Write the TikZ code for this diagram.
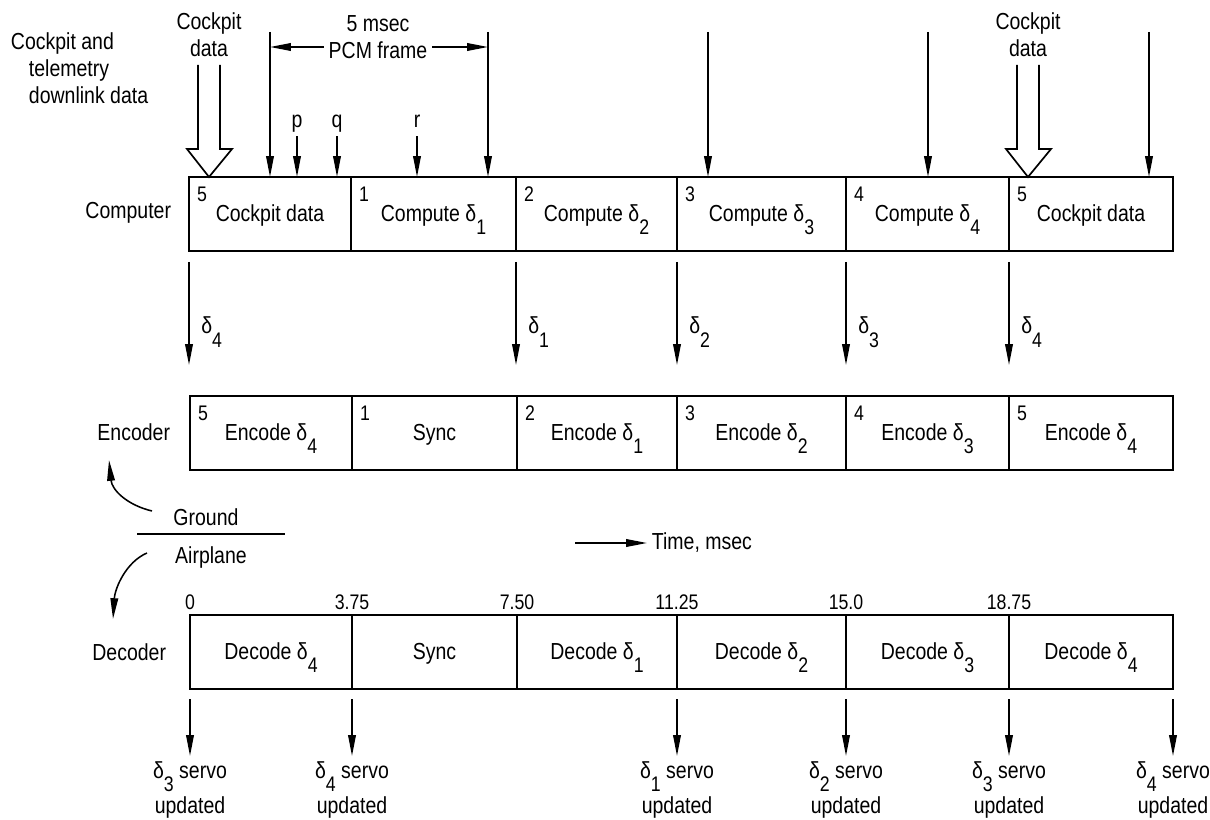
\documentclass[tikz,border=0pt]{standalone}
\usepackage{fontspec}
\setmainfont{Liberation Sans}[FakeStretch=0.84]
\usetikzlibrary{arrows.meta,positioning,calc}

\newcommand{\dsub}[1]{δ\raisebox{-0.6em}{\fontsize{15}{15}\selectfont #1}}

\begin{document}
\begin{tikzpicture}[
  	x=0.025cm,
  	y=-0.025cm,
  	font=\fontsize{16.5}{19}\selectfont,
  	cell/.style={draw=black,line width=1.6pt,inner sep=0pt,outer sep=0pt,anchor=north west,minimum height=1.85cm,text height=10pt,text depth=0pt},
  	slot/.style={font=\fontsize{15}{17}\selectfont,inner sep=0pt},
  	rate/.style={inner sep=2pt,text height=1.5ex,text depth=0.4ex},
  	feed/.style={-{Triangle[length=5.2mm,width=1.9mm]},line width=1.1pt},
  	hollow/.style={draw=black,line width=1.2pt,fill=white,line join=miter},
  	divider/.style={line width=1.3pt}
  	]
  	\useasboundingbox (0,0) rectangle (1210,820);
  	
  	\node[anchor=north west,align=left] (source) at (24,28) {\hspace*{-0.45cm}Cockpit and\\telemetry\\downlink data};
  	
  	\node[anchor=east] (computer) at (176,213) {Computer};
  	\node[anchor=east] (encoder) at (175,432) {Encoder};
  	\node[anchor=east] (decoder) at (171,652) {Decoder};
  	
  	% Computer row
  	\foreach \xa/\xb/\num/\lab [count=\i] in {189/351/5/Cockpit data,351/516/1/Compute \dsub{1},516/677/2/Compute \dsub{2},677/846/3/Compute \dsub{3},846/1009/4/Compute \dsub{4},1009/1173/5/Cockpit data} {
  		\pgfmathsetmacro{\cellw}{(\xb-\xa)*0.025}
  		\node[cell,minimum width=\cellw cm] (comp\i) at (\xa,177) {\lab};
  		\node[slot] (compn\i) at ($(comp\i.north west)+(13,17)$) {\num};
  	}
  	
  	% Encoder row
  	\foreach \xa/\xb/\num/\lab [count=\i] in {190/352/5/Encode \dsub{4},352/517/1/Sync,517/677/2/Encode \dsub{1},677/846/3/Encode \dsub{2},846/1009/4/Encode \dsub{3},1009/1173/5/Encode \dsub{4}} {
  		\pgfmathsetmacro{\cellw}{(\xb-\xa)*0.025}
  		\node[cell,minimum width=\cellw cm] (enc\i) at (\xa,396) {\lab};
  		\node[slot] (encn\i) at ($(enc\i.north west)+(13,17)$) {\num};
  	}
  	
  	% Decoder row
  	\foreach \xa/\xb/\t/\lab [count=\i] in {190/352/0/Decode \dsub{4},352/517/3.75/Sync,517/677/7.50/Decode \dsub{1},677/846/11.25/Decode \dsub{2},846/1009/15.0/Decode \dsub{3},1009/1173/18.75/Decode \dsub{4}} {
  		\pgfmathsetmacro{\cellw}{(\xb-\xa)*0.025}
  		\node[cell,minimum width=\cellw cm] (dec\i) at (\xa,615) {\lab};
  		\node[anchor=base,font=\fontsize{15}{17}\selectfont] (tick\i) at (\xa,609) {\t};
  	}
  	
  	% Cockpit data inputs
  	\foreach \x [count=\i] in {209,1028} {
  		\node[align=center] (cockpit\i) at (\x,35) {Cockpit\\data};
  		\draw[hollow] (\x-11,65) -- (\x-11,149) -- (\x-22,149) -- (\x,177) -- (\x+23,149) -- (\x+11,149) -- (\x+11,65);
  	}
  	
  	% Frame marks
  	\foreach \x [count=\i] in {270,488,708,928,1149} {
  		\coordinate (mark\i) at (\x,32);
  		\draw[feed] (mark\i) -- (mark\i |- comp1.north);
  	}
  	\node[align=center] (frame) at (378,37) {5 msec\\PCM frame};
  	\coordinate (span-l) at (270,47);
  	\coordinate (span-r) at (488,47);
  	\draw[feed] (span-l -| frame.west) -- (span-l);
  	\draw[feed] (span-r -| frame.east) -- (span-r);
  	
  	\foreach \x/\s in {297/p,337/q,417/r} {
  		\node[rate] (rate-\s) at (\x,123) {\s};
  		\draw[feed] (rate-\s.south) ++(0,3) -- (rate-\s |- comp1.north);
  	}
  	
  	% Computer to encoder
  	\foreach \x/\k [count=\i] in {189/4,516/1,677/2,846/3,1009/4} {
  		\coordinate (tap\i) at (\x,262);
  		\draw[feed] (tap\i) -- ++(0,103);
  		\node[anchor=base west,inner sep=0pt] (delta\i) at (\x+12,334) {\dsub{\k}};
  	}
  	
  	% Ground / airplane
  	\node (ground) at (206,517) {Ground};
  	\node (airplane) at (211,557) {Airplane};
  	\draw[divider] (137,534) -- (285,534);
  	\coordinate (up-from) at (152,511);
  	\coordinate (down-from) at (147,553);
  	\draw[feed] (up-from) .. controls (127,505) and (112,490) .. (109,460);
  	\draw[feed] (down-from) .. controls (126,562) and (115,588) .. (113,619);
  	
  	\node[anchor=west] (time) at (647,543) {Time, msec};
  	\coordinate (time-from) at (575,543);
  	\draw[feed] (time-from) -- (time.west);
  	
  	% Servo updates
  	\foreach \x/\k [count=\i] in {190/3,352/4,677/1,846/2,1009/3,1173/4} {
  		\coordinate (out\i) at (\x,699);
  		\draw[feed] (out\i) -- ++(0,57);
  		\node[anchor=south,align=center,inner sep=0pt,font=\fontsize{16.5}{25.5}\selectfont] (servo\i) at (\x,819) {\dsub{\k} servo\\updated};
  	}
\end{tikzpicture}
\end{document}
